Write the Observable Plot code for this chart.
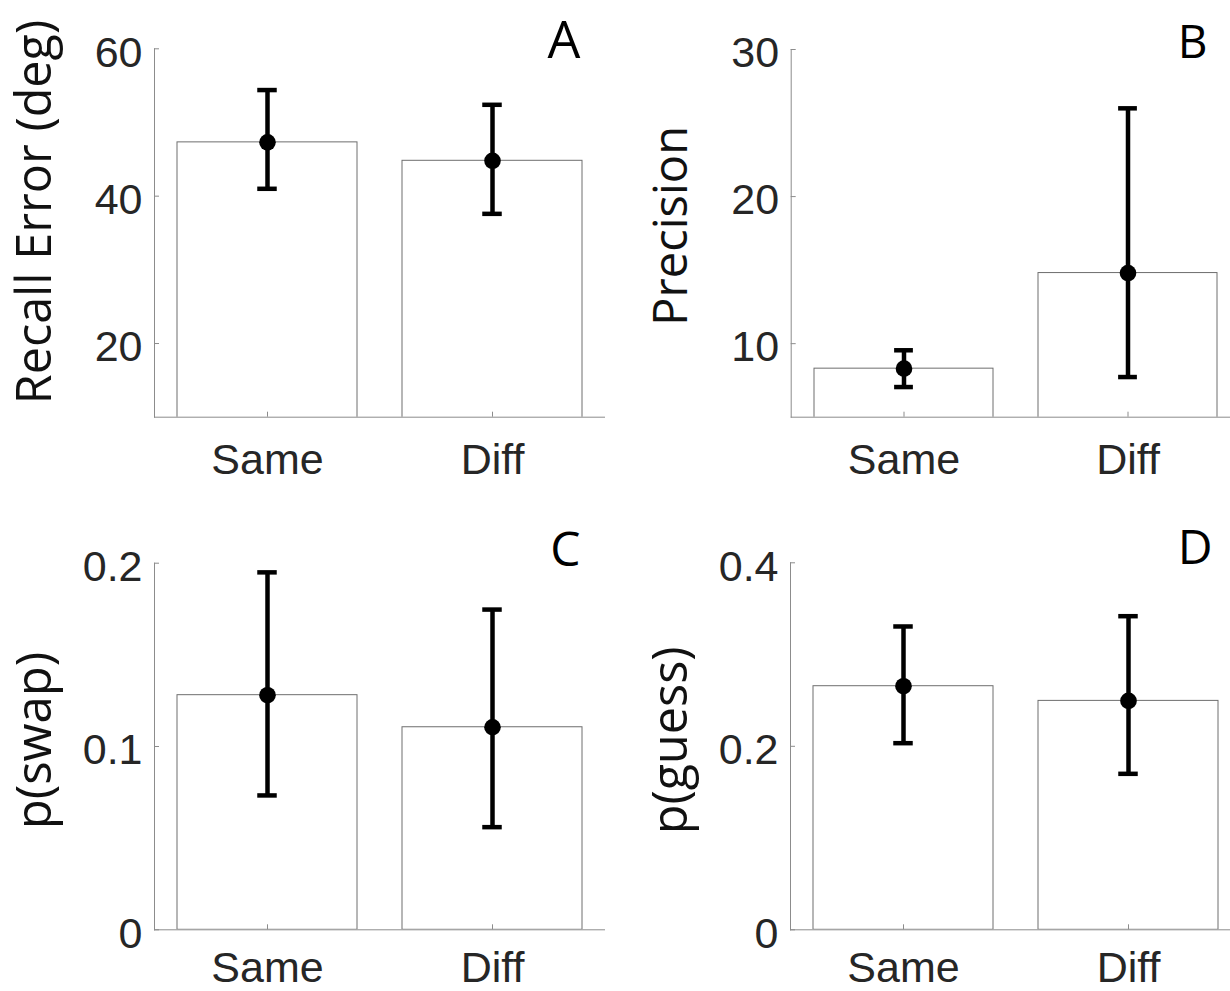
<!DOCTYPE html>
<html><head><meta charset="utf-8">
<script src="https://cdn.jsdelivr.net/npm/d3@7"></script>
<script src="https://cdn.jsdelivr.net/npm/@observablehq/plot@0.6"></script>
<style>
html,body{margin:0;padding:0;background:#fff;}
#fig{position:relative;width:1230px;height:991px;overflow:hidden;background:#fff;}
</style></head><body><div id="fig"></div>
<script>
// ---- data ----
const conditions = ["Same", "Diff"];

const recallMean = [47.3, 44.8];
const recallLo   = [41.0, 37.6];
const recallHi   = [54.4, 52.4];
const recallTicks = [20, 40, 60];

const precisionMean = [8.3, 14.8];
const precisionLo   = [7.05, 7.73];
const precisionHi   = [9.55, 26.0];
const precisionTicks = [10, 20, 30];

const swapMean = [0.128, 0.1105];
const swapLo   = [0.0733, 0.056];
const swapHi   = [0.195, 0.1747];
const swapTicks = [0, 0.1, 0.2];

const guessMean = [0.2655, 0.2495];
const guessLo   = [0.2034, 0.170];
const guessHi   = [0.3306, 0.3418];
const guessTicks = [0, 0.2, 0.4];

// ---- drawing ----
const fig = document.getElementById("fig");
const AXIS = "#8c8c8c", EDGE = "#6e6e6e", TICKTXT = "#262626";

function panel(o) {
  const rows = conditions.map((c, i) => ({cond: c, mean: o.mean[i], lo: o.lo[i], hi: o.hi[i]}));
  const W = o.width - o.ml - o.mr;
  const H = o.height - o.mt - o.mb;
  const bandwidth = 0.4 * W;
  const capInset = (bandwidth - 19.5) / 2;
  const svg = Plot.plot({
    width: o.width, height: o.height,
    marginLeft: o.ml, marginRight: o.mr, marginTop: o.mt, marginBottom: o.mb,
    style: {fontFamily: "'Liberation Sans', Arial, sans-serif", background: "transparent", overflow: "visible"},
    x: {type: "band", domain: conditions, paddingInner: 0.2, paddingOuter: 0.1, axis: null},
    y: {domain: o.domain, axis: null},
    marks: [
      Plot.barY(rows, {x: "cond", y: "mean", fill: "white", stroke: EDGE, strokeWidth: 1, clip: true}),
      Plot.frame({anchor: "left", stroke: AXIS, strokeWidth: 1}),
      Plot.frame({anchor: "bottom", stroke: AXIS, strokeWidth: 1}),
      Plot.ruleY(o.ticks, {insetRight: W - 5, stroke: AXIS, strokeWidth: 1}),
      Plot.ruleX(conditions, {insetTop: H - 5, stroke: AXIS, strokeWidth: 1}),
      Plot.axisY(o.ticks, {tickSize: 0, tickPadding: 12, fontSize: 43, label: null, dy: 4, fill: TICKTXT,
        tickFormat: d => String(d)}),
      Plot.axisX({tickSize: 0, tickPadding: o.xPad, fontSize: 43, label: null, fill: TICKTXT}),
      Plot.ruleX(rows, {x: "cond", y1: "lo", y2: "hi", stroke: "black", strokeWidth: 4.5}),
      Plot.tickY(rows, {x: "cond", y: "hi", stroke: "black", strokeWidth: 4.5, insetLeft: capInset, insetRight: capInset}),
      Plot.tickY(rows, {x: "cond", y: "lo", stroke: "black", strokeWidth: 4.5, insetLeft: capInset, insetRight: capInset}),
      Plot.dot(rows, {x: "cond", y: "mean", r: 8.3, fill: "black", stroke: null}),
      Plot.text([o.label], {text: d => d, frameAnchor: "left", rotate: -90, dx: -104, dy: o.labelDy,
        textAnchor: "middle", lineAnchor: "bottom", fontSize: o.labelSize, fontFamily: "'Open Sans', sans-serif", fill: "#111"}),
      Plot.text([o.letter], {text: d => d, frameAnchor: "top-right", textAnchor: "end", lineAnchor: "bottom",
        dx: o.letterDx, dy: o.letterDy, fontSize: o.letterSize, fontFamily: "'Open Sans', sans-serif", fill: "black"})
    ]
  });
  svg.style.position = "absolute";
  svg.style.left = o.left + "px";
  svg.style.top = o.top + "px";
  svg.style.maxWidth = "none";
  fig.appendChild(svg);
}

panel({mean: recallMean, lo: recallLo, hi: recallHi, domain: [10, 60], ticks: recallTicks,
  label: "Recall Error (deg)", letter: "A", left: 0, top: 0, width: 615, height: 495,
  ml: 154, mr: 11, mt: 48.3, mb: 78.3, xPad: 26, labelDy: -21, labelSize: 48.5,
  letterDx: -24, letterDy: 8.7, letterSize: 52});

panel({mean: precisionMean, lo: precisionLo, hi: precisionHi, domain: [5, 30], ticks: precisionTicks,
  label: "Precision", letter: "B", left: 615, top: 0, width: 635, height: 495,
  ml: 175.7, mr: 10, mt: 49, mb: 78.3, xPad: 26, labelDy: -7.5, labelSize: 47,
  letterDx: -33, letterDy: 8, letterSize: 46});

panel({mean: swapMean, lo: swapLo, hi: swapHi, domain: [0, 0.2], ticks: swapTicks,
  label: "p(swap)", letter: "C", left: 0, top: 495, width: 615, height: 496,
  ml: 154, mr: 11, mt: 67.7, mb: 61.7, xPad: 22, labelDy: -6, labelSize: 49,
  letterDx: -24, letterDy: 2.5, letterSize: 48});

panel({mean: guessMean, lo: guessLo, hi: guessHi, domain: [0, 0.4], ticks: guessTicks,
  label: "p(guess)", letter: "D", left: 615, top: 495, width: 635, height: 496,
  ml: 175, mr: 10, mt: 67.3, mb: 61.7, xPad: 22, labelDy: -6, labelSize: 48.5,
  letterDx: -28, letterDy: 1, letterSize: 48});
</script>
</body></html>
